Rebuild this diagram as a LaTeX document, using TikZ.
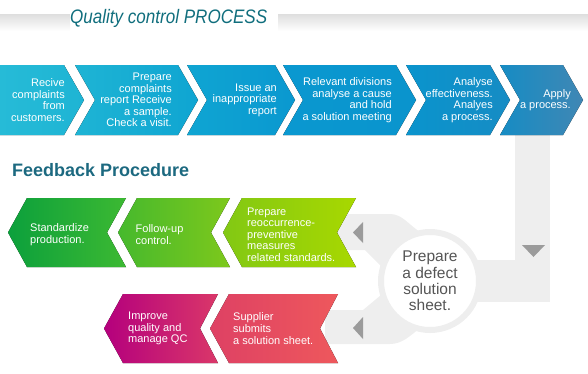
\documentclass[tikz,border=0pt]{standalone}
\usepackage{fontspec}
\setmainfont{Liberation Sans}
\usepackage{graphicx}
\definecolor{titleteal}{RGB}{16,110,125}
\definecolor{fbteal}{RGB}{28,105,128}
\definecolor{bandgray}{RGB}{238,238,238}
\definecolor{trigray}{RGB}{155,155,155}
\definecolor{circtext}{RGB}{85,85,85}
\definecolor{bA}{RGB}{38,187,215}\definecolor{bB}{RGB}{30,180,212}
\definecolor{bC}{RGB}{15,165,210}\definecolor{bD}{RGB}{10,152,208}
\definecolor{bE}{RGB}{10,148,205}\definecolor{bF}{RGB}{22,140,196}
\definecolor{bG}{RGB}{64,135,180}
\definecolor{gA}{RGB}{12,160,60}\definecolor{gB}{RGB}{60,185,50}
\definecolor{gC}{RGB}{70,185,45}\definecolor{gD}{RGB}{125,200,28}
\definecolor{gE}{RGB}{130,200,20}\definecolor{gF}{RGB}{168,216,0}
\definecolor{pA}{RGB}{180,0,125}\definecolor{pB}{RGB}{218,55,105}
\definecolor{pC}{RGB}{222,65,100}\definecolor{pD}{RGB}{238,88,92}
\begin{document}
\begin{tikzpicture}[x=1pt,y=-1pt,
  txt/.style={inner sep=0pt,text=white,font=\fontsize{11}{11.6}\selectfont},
  toptxt/.style={txt,anchor=east,align=right},
  lefttxt/.style={txt,anchor=west,align=left},
  tri/.style={fill=trigray}]
\useasboundingbox (0,0) rectangle (588,373);
% title bars
\fill[top color=black!13,bottom color=white] (0,14) rectangle (70,31);
\fill[top color=black!13,bottom color=white] (278,14) rectangle (588,31);
\node[inner sep=0pt,anchor=base west,text=titleteal] (title) at (70,23.3)
  {\resizebox{197pt}{\height}{\fontsize{19.5}{20}\selectfont\itshape Quality control PROCESS}};
% gray band
\fill[bandgray] (515,135) rectangle (550,302);
\fill[bandgray] (430,260) rectangle (550,302);
\fill[bandgray] (330,214) -- (390,214) .. controls (402,214) and (408,224) .. (420,232)
  -- (430,280) -- (381,266) -- (365,250) -- (330,250) -- cycle;
\fill[bandgray] (325,310) -- (363,310) -- (381,295) -- (430,280) -- (420,328)
  .. controls (410,336) and (402,344) .. (390,344) -- (325,344) -- cycle;
\fill[tri] (522,245) -- (545,245) -- (533.5,257) -- cycle;
\fill[tri] (353,232.5) -- (363,222) -- (363,243) -- cycle;
\fill[tri] (353,328) -- (363,317) -- (363,339) -- cycle;
\node[circle,minimum size=98pt,inner sep=0pt,fill=white,draw=bandgray,line width=6pt,
  text=circtext,align=center,font=\fontsize{15.5}{16.3}\selectfont] (sheet) at (430,281)
  {Prepare\\a defect\\solution\\sheet.};
% top row
\fill[left color=bA,right color=bB] (0,65) -- (64,65) -- (84,100) -- (64,135) -- (0,135) -- cycle;
\fill[left color=bB,right color=bC] (75,65) -- (178,65) -- (198,100) -- (178,135) -- (75,135) -- (95,100) -- cycle;
\fill[left color=bC,right color=bD] (187,65) -- (275,65) -- (295,100) -- (275,135) -- (187,135) -- (207,100) -- cycle;
\fill[left color=bD,right color=bE] (283,65) -- (396,65) -- (416,100) -- (396,135) -- (283,135) -- (303,100) -- cycle;
\fill[left color=bE,right color=bF] (406,65) -- (490,65) -- (510,100) -- (490,135) -- (406,135) -- (426,100) -- cycle;
\fill[left color=bF,right color=bG] (500,65) -- (563,65) -- (583,100) -- (563,135) -- (500,135) -- (520,100) -- cycle;
\node[toptxt] (t1) at (65,100) {Recive\\complaints\\from\\customers.};
\node[toptxt] (t2) at (172,100) {Prepare\\complaints\\report Receive\\a sample.\\Check a visit.};
\node[toptxt] (t3) at (277,100) {Issue an\\inappropriate\\report};
\node[toptxt] (t4) at (392,100) {Relevant divisions\\analyse a cause\\and hold\\a solution meeting};
\node[toptxt] (t5) at (493,100) {Analyse\\effectiveness.\\Analyes\\a process.};
\node[toptxt] (t6) at (571,100) {Apply\\a process.};
% feedback
\node[inner sep=0pt,anchor=base west,text=fbteal,font=\bfseries\fontsize{18}{18}\selectfont] (fb) at (12,176) {Feedback Procedure};
\fill[left color=gA,right color=gB] (8,232.5) -- (27,198) -- (126,198) -- (107,232.5) -- (126,267) -- (27,267) -- cycle;
\fill[left color=gC,right color=gD] (118,232.5) -- (137,198) -- (230,198) -- (211,232.5) -- (230,267) -- (137,267) -- cycle;
\fill[left color=gE,right color=gF] (223,232.5) -- (242,198) -- (356,198) -- (337,232.5) -- (356,267) -- (242,267) -- cycle;
\fill[left color=pA,right color=pB] (104,328.5) -- (123,294) -- (218,294) -- (200,328.5) -- (218,363) -- (123,363) -- cycle;
\fill[left color=pC,right color=pD] (210,328.5) -- (229,294) -- (338,294) -- (320,328.5) -- (338,363) -- (229,363) -- cycle;
\node[lefttxt] (g1) at (30,234.5) {Standardize\\production.};
\node[lefttxt] (g2) at (135.5,234.5) {Follow-up\\control.};
\node[lefttxt] (g3) at (247,234.5) {Prepare\\reoccurrence-\\preventive\\measures\\related standards.};
\node[lefttxt] (p1) at (128,328.5) {Improve\\quality and\\manage QC};
\node[lefttxt] (p2) at (233,328.5) {Supplier\\submits\\a solution sheet.};
\end{tikzpicture}
\end{document}
